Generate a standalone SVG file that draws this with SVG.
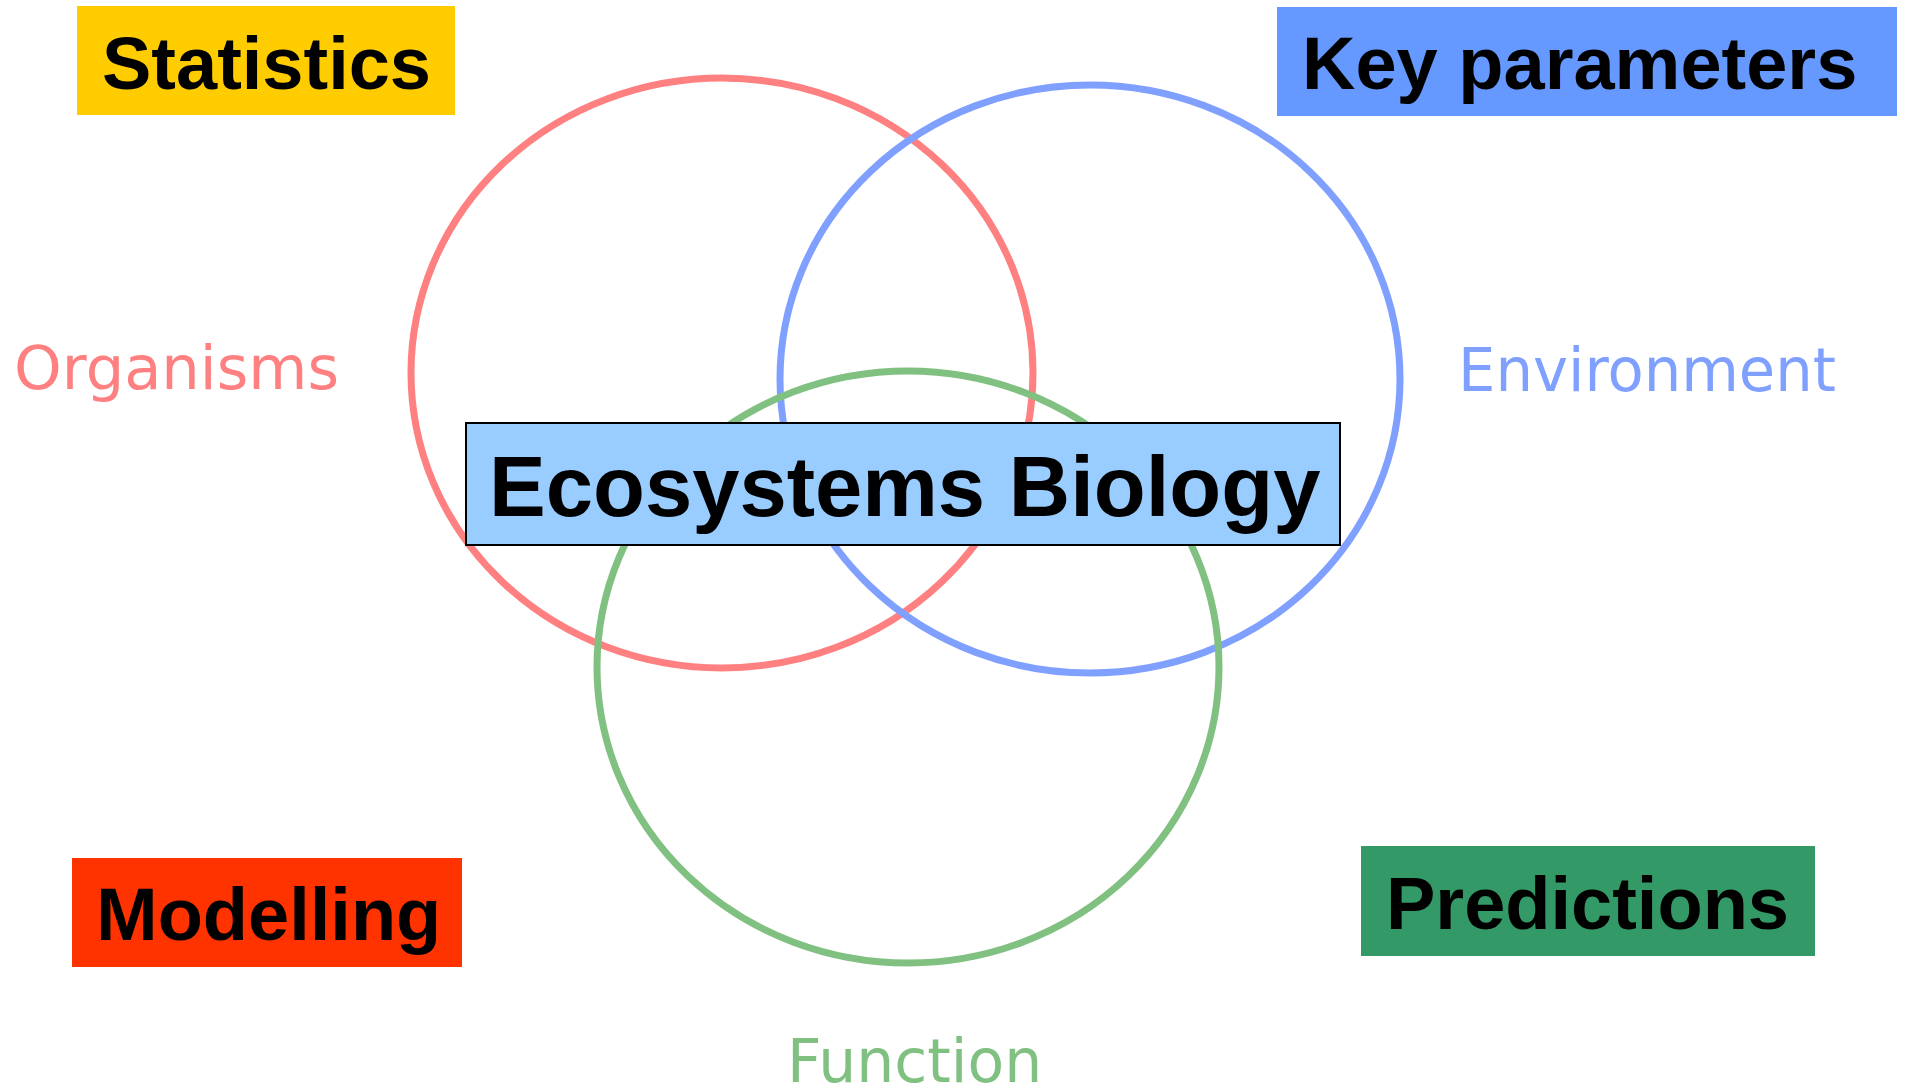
<svg xmlns="http://www.w3.org/2000/svg" width="1910" height="1090" viewBox="0 0 1910 1090">
<style>
.lbl{font-family:"Liberation Sans",Arial,sans-serif;font-weight:bold;font-size:74px;fill:#000}
.big{font-size:85px}
.set{font-family:"DejaVu Sans",Verdana,sans-serif;font-size:60px}
.ring{fill:none;stroke-width:7}
</style>
<rect width="1910" height="1090" fill="#fff"/>
<g id="connectors">
<ellipse id="ring-organisms" class="ring" cx="722" cy="373" rx="311" ry="295" stroke="#ff8080"/>
<ellipse id="ring-environment" class="ring" cx="1090" cy="379" rx="310" ry="294" stroke="#80a0ff"/>
<ellipse id="ring-function" class="ring" cx="908" cy="667" rx="311" ry="296" stroke="#80c080"/>
</g>
<g id="organisms"><text class="set" x="14" y="389" fill="#ff8080" textLength="325" lengthAdjust="spacingAndGlyphs">Organisms</text></g>
<g id="environment"><text class="set" x="1458" y="391" fill="#80a0ff" textLength="378" lengthAdjust="spacingAndGlyphs">Environment</text></g>
<g id="function"><text class="set" x="787" y="1082" fill="#80c080">Function</text></g>
<g id="statistics"><rect x="77" y="6" width="378" height="109" fill="#ffcc00"/><text class="lbl" x="102" y="89">Statistics</text></g>
<g id="key-parameters"><rect x="1277" y="7" width="620" height="109" fill="#6699ff"/><text class="lbl" x="1302" y="89">Key parameters</text></g>
<g id="modelling"><rect x="72" y="858" width="390" height="109" fill="#ff3300"/><text class="lbl" x="96" y="940">Modelling</text></g>
<g id="predictions"><rect x="1361" y="846" width="454" height="110" fill="#339966"/><text class="lbl" x="1386" y="929">Predictions</text></g>
<g id="ecosystems-biology"><rect x="466" y="423" width="874" height="122" fill="#99ccff" stroke="#000" stroke-width="2"/><text class="lbl big" x="489" y="516">Ecosystems Biology</text></g>
</svg>
